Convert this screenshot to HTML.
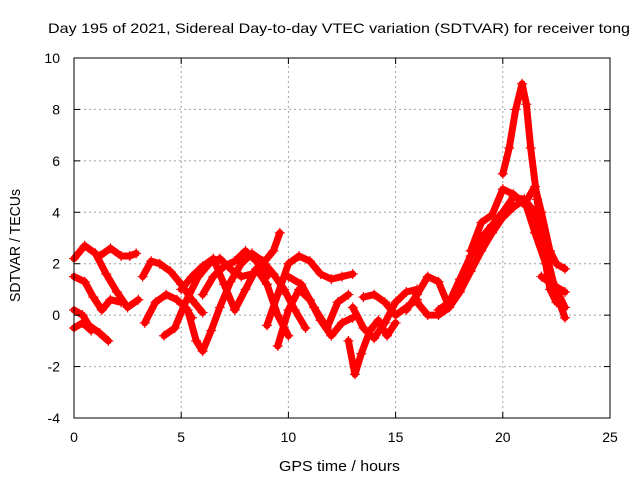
<!DOCTYPE html>
<html><head><meta charset="utf-8"><style>
body{margin:0;background:#fff}
svg{display:block;font-family:"Liberation Sans",sans-serif}
</style></head><body>
<svg id="chart" width="640" height="480" viewBox="0 0 640 480" xmlns="http://www.w3.org/2000/svg">
<text x="48" y="33" font-size="14" textLength="582" lengthAdjust="spacingAndGlyphs">Day 195 of 2021, Sidereal Day-to-day VTEC variation (SDTVAR) for receiver tong</text>
<g id="grid"></g>
<g id="series"></g>
<rect x="74" y="58" width="536" height="360" fill="none" stroke="#000" stroke-width="1"/>
<g id="axes"></g>
<text x="279" y="471" font-size="15" textLength="121" lengthAdjust="spacingAndGlyphs">GPS time / hours</text>
<text transform="translate(20,302) rotate(-90)" font-size="15" textLength="113" lengthAdjust="spacingAndGlyphs">SDTVAR / TECUs</text>
</svg>
<script>
const xTicks=[0,5,10,15,20,25];
const yTicks=[-4,-2,0,2,4,6,8,10];
const tracks=[
[[0,2.2],[0.5,2.7],[1,2.4],[1.5,1.6],[2,0.9],[2.5,0.3],[3,0.6]],
[[1.2,2.3],[1.7,2.6],[2.2,2.3],[2.6,2.3],[2.9,2.4]],
[[0,1.5],[0.5,1.3],[0.9,0.7],[1.3,0.2],[1.7,0.6],[2.2,0.5]],
[[0,0.2],[0.4,0.0],[0.7,-0.4],[1.2,-0.7],[1.6,-1.0]],
[[0,-0.5],[0.4,-0.3],[0.8,-0.6]],
[[3.2,1.5],[3.6,2.1],[4,2.0],[4.5,1.7],[5,1.2],[5.5,0.6],[6,0.1]],
[[3.3,-0.3],[3.8,0.5],[4.3,0.8],[4.8,0.6],[5.2,0.3],[5.5,-0.1]],
[[4.2,-0.8],[4.7,-0.5],[5.2,0.5],[5.8,1.5],[6.3,2.0],[6.8,2.2],[7.3,1.8],[7.8,1.5],[8.3,1.6],[8.8,2.0],[9.3,2.5],[9.6,3.2]],
[[5.3,0.2],[5.7,-1.0],[6,-1.4],[6.4,-0.6],[6.8,0.3],[7.3,1.3],[7.8,2.0],[8.3,2.4],[8.8,2.1],[9.3,1.6],[9.8,1.0],[10.3,0.2],[10.8,-0.5]],
[[5,1.0],[5.5,1.5],[6,1.9],[6.5,2.2],[7,1.2],[7.5,0.2],[8,1.0],[8.5,1.8],[9,1.2],[9.5,0],[10,-0.8]],
[[6,0.8],[6.5,1.5],[7,1.9],[7.5,2.1],[8,2.5],[8.5,2.1],[9,1.5]],
[[9,-0.4],[9.5,0.8],[10,2.0],[10.5,2.3],[11,2.1],[11.5,1.6],[12,1.4],[12.5,1.5],[13,1.6]],
[[9.5,-1.2],[10,0.2],[10.5,1.0],[11,0.6],[11.5,-0.2],[12,-0.8],[12.5,-0.3],[13,-0.1]],
[[10,1.5],[10.6,1.2],[11.2,0.3],[11.8,-0.5],[12.3,0.5],[12.8,0.8]],
[[12.8,-1.0],[13.1,-2.3],[13.4,-1.5],[13.8,-0.6],[14.2,-0.2],[14.6,-0.8],[15,-0.3]],
[[13,0.3],[13.5,-0.5],[14,-0.9],[14.5,-0.3],[15,0.5],[15.5,0.9],[16,1.0]],
[[13.5,0.7],[14,0.8],[14.5,0.5],[15,0.0],[15.5,0.3],[16,0.6]],
[[15.5,0.2],[16,0.8],[16.5,1.5],[17,1.3],[17.5,0.3]],
[[16,0.5],[16.5,0],[17,0],[17.5,0.3],[18,0.9],[18.5,1.7],[19,2.5],[19.5,3.2],[20,3.8],[20.5,4.2],[21,4.5],[21.5,4.0],[22,2.5],[22.5,0.8],[22.9,-0.1]],
[[17,0.2],[17.5,0.5],[18,1.4],[18.5,2.3],[19,3.0],[19.5,3.5],[20,4.0],[20.5,4.6],[21,4.5],[21.5,3.2],[22,2.0],[22.5,1.0],[22.9,0.3]],
[[18.5,2.5],[19,3.6],[19.5,3.9],[20,4.9],[20.5,4.7],[21,4.3],[21.5,5.0],[21.8,4.0],[22.2,2.5],[22.5,2.0],[22.9,1.8]],
[[20,5.5],[20.3,6.5],[20.6,8.0],[20.9,9.0],[21.1,8.2],[21.3,6.5],[21.6,4.5],[21.9,2.5],[22.2,1.0],[22.5,0.5]],
[[21.8,1.5],[22.3,1.2],[22.9,0.9]]
];
const X0=74,X1=610,Y0=418,Y1=58,xmin=0,xmax=25,ymin=-4,ymax=10;
const sx=v=>X0+(v-xmin)/(xmax-xmin)*(X1-X0);
const sy=v=>Y0-(v-ymin)/(ymax-ymin)*(Y0-Y1);
const NS="http://www.w3.org/2000/svg";
const grid=document.getElementById('grid'),axes=document.getElementById('axes'),ser=document.getElementById('series');
function mk(t,a,p){const e=document.createElementNS(NS,t);for(const k in a)e.setAttribute(k,a[k]);p.appendChild(e);return e;}
xTicks.forEach(v=>{const x=sx(v);
 if(v>xmin&&v<xmax){const g=mk('line',{x1:x,x2:x,y1:Y0,y2:Y1,stroke:'#a0a0a0','stroke-dasharray':'2,3'},grid);}
 mk('line',{x1:x,x2:x,y1:Y0,y2:Y0-6,stroke:'#000'},axes);mk('line',{x1:x,x2:x,y1:Y1,y2:Y1+6,stroke:'#000'},axes);
 const t=mk('text',{x:x,y:Y0+24,'font-size':14,'text-anchor':'middle'},axes);t.textContent=v;
 });
yTicks.forEach(v=>{const y=sy(v);
 if(v>ymin&&v<ymax){const g=mk('line',{x1:X0,x2:X1,y1:y,y2:y,stroke:'#a0a0a0','stroke-dasharray':'2,3'},grid);}
 mk('line',{x1:X0,x2:X0+6,y1:y,y2:y,stroke:'#000'},axes);mk('line',{x1:X1,x2:X1-6,y1:y,y2:y,stroke:'#000'},axes);
 const t=mk('text',{x:X0-14,y:y+5,'font-size':14,'text-anchor':'end'},axes);t.textContent=v;
 });
tracks.forEach(tr=>{
 const pl=mk('polyline',{points:tr.map(p=>sx(p[0])+','+sy(p[1])).join(' '),fill:'none',stroke:'#ff0000','stroke-width':7,'stroke-linejoin':'round','stroke-linecap':'round'},ser);
 
 
 tr.forEach(p=>{const x=sx(p[0]),y=sy(p[1]);
  const m=mk('path',{d:`M${x-5},${y}H${x+5}M${x},${y-5}V${y+5}`,stroke:'#ff0000','stroke-width':1.2},ser);
  
  });
});
</script>
</body></html>
